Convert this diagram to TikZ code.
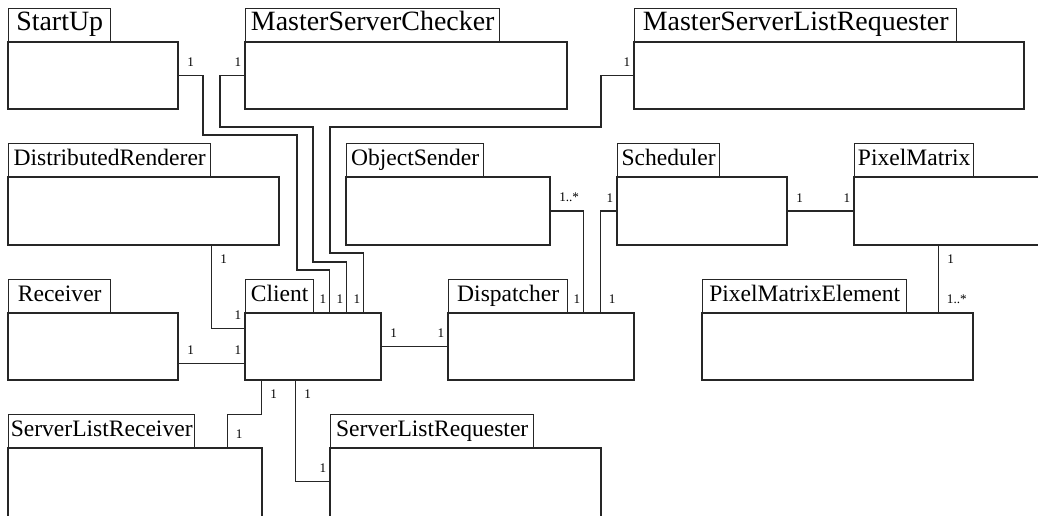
\documentclass[tikz,border=0pt]{standalone}
\usepackage{fontspec}
\setmainfont{Liberation Serif}
\usetikzlibrary{fit,calc,positioning}

\tikzset{
    box/.style={draw=black!85, line width=0.8pt, inner sep=0pt},
    classbody/.style={box},
    classname/.style={box, anchor=north west, minimum height=0.68cm,
        font=\fontsize{13.4}{16}\selectfont, text height=0.8em, text depth=0.2em},
    bigname/.style={classname, font=\fontsize{15.9}{19}\selectfont},
    link/.style={draw=black!85, line width=0.8pt},
    lbl/.style={inner sep=0pt, font=\fontsize{7.5}{9}\selectfont},
    lbl ne/.style={lbl, above right=4.7pt and 4.5pt},
    lbl nw/.style={lbl, above left=4.7pt and 1.4pt},
    lbl se/.style={lbl, below right=4.7pt and 4.8pt},
}

\begin{document}
\begin{tikzpicture}[x=0.02cm,y=-0.02cm]
    \useasboundingbox (0,0) rectangle (1038,515);
    \clip (0,0) rectangle (1038,515);

    % Top row: name tab at (\x,\y), tab right edge \tx, body corner (\bx,\by)
    \foreach \id/\x/\y/\tx/\bx/\by/\title in {
        startup/8/8/110/178/109/StartUp,
        msc/245/8/499/567/109/MasterServerChecker,
        mslr/634/8/956/1024/109/MasterServerListRequester} {
        \node[classbody, fit={(\x,\y+34) (\bx,\by)}] (\id) {};
        \node[bigname, minimum width={(\tx-\x)*0.02cm}] (\id-name) at (\x,\y) {\title};
    }

    % All other classes
    \foreach \id/\x/\y/\tx/\bx/\by/\title in {
        dr/8/143/210/279/245/DistributedRenderer,
        os/346/143/483/550/245/ObjectSender,
        sched/617/143/719/787/245/Scheduler,
        pm/854/143/973/1060/245/PixelMatrix,
        recv/8/279/110/178/380/Receiver,
        client/245/279/313/381/380/Client,
        disp/448/279/567/634/380/Dispatcher,
        pme/702/279/906/973/380/PixelMatrixElement,
        slrecv/8/414/194/262/540/ServerListReceiver,
        slreq/330/414/533/601/540/ServerListRequester} {
        \node[classbody, fit={(\x,\y+34) (\bx,\by)}] (\id) {};
        \node[classname, minimum width={(\tx-\x)*0.02cm}] (\id-name) at (\x,\y) {\title};
    }

    % Links running into the top of Client
    \draw[link] (startup.east) node[lbl ne] (m1) {1}
        -| (203,135) -| (297,270) -| ($(client.north west)+(85,0)$) node[lbl nw] (m2) {1};
    \draw[link] (msc.west) node[lbl nw] (m3) {1}
        -| (220,127) -| (313,262) -| ($(client.north west)+(102,0)$) node[lbl nw] (m4) {1};
    \draw[link] (mslr.west) node[lbl nw] (m5) {1}
        -| (601,127) -| (330,253) -| ($(client.north west)+(119,0)$) node[lbl nw] (m6) {1};

    % Left side of Client
    \draw[link] ($(dr.south west)+(204,0)$) node[lbl se] (m7) {1}
        |- ($(client.north west)+(0,16)$) node[lbl nw] (m8) {1};
    \draw[link] ($(recv.south east)+(0,-17)$) node[lbl ne] (m9) {1}
        -- ($(client.south west)+(0,-17)$) node[lbl nw] (m10) {1};

    % Client to Dispatcher
    \draw[link] (client.east) node[lbl ne] (m11) {1} -- (disp.west) node[lbl nw] (m12) {1};

    % Below Client
    \draw[link] ($(client.south west)+(17,0)$) node[lbl se] (m13) {1}
        -- ++(0,34) -| ($(slrecv.north west)+(220,0)$) node[lbl ne] (m14) {1};
    \draw[link] ($(client.south west)+(51,0)$) node[lbl se] (m15) {1}
        |- ($(slreq.north west)+(0,34)$) node[lbl nw] (m16) {1};

    % Dispatcher, Scheduler and the pixel matrix
    \draw[link] (os.east) node[lbl ne] (m17) {1..*}
        -| ($(disp.north west)+(136,0)$) node[lbl nw] (m18) {1};
    \draw[link] (sched.west) node[lbl nw] (m19) {1}
        -| ($(disp.north west)+(153,0)$) node[lbl ne] (m20) {1};
    \draw[link] (sched.east) node[lbl ne] (m21) {1} -- (pm.west) node[lbl nw] (m22) {1};
    \draw[link] ($(pm.south west)+(85,0)$) node[lbl se] (m23) {1}
        -- ($(pme.north west)+(237,0)$) node[lbl ne] (m24) {1..*};

\end{tikzpicture}
\end{document}
